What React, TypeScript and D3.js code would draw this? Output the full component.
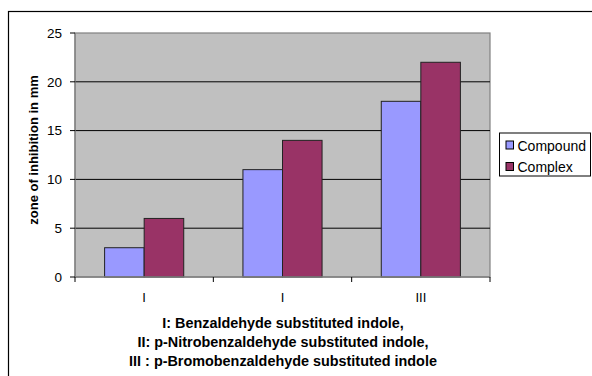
import React from "react";
import * as d3 from "d3";

const categories = ["I", "I", "III"];
const seriesNames = ["Compound", "Complex"];
const compoundValues = [3, 11, 18];
const complexValues = [6, 14, 22];
const yTicks = [0, 5, 10, 15, 20, 25];
const footnotes = [
  "I: Benzaldehyde substituted indole,",
  "II: p-Nitrobenzaldehyde substituted indole,",
  "III : p-Bromobenzaldehyde substituted indole",
];
const colors = ["#9999FF", "#993366"];

const W = 592;
const H = 376;
const plot = { left: 75, top: 33, right: 490, bottom: 277 };

export default function App() {
  const x = d3
    .scaleBand<number>()
    .domain(d3.range(categories.length))
    .range([plot.left, plot.right])
    .paddingInner(0)
    .paddingOuter(0);
  const y = d3.scaleLinear().domain([0, 25]).range([plot.bottom, plot.top]);
  const bw = x.bandwidth();
  const barW = bw * 0.286;
  const series = [compoundValues, complexValues];
  const font = "'Liberation Sans', Arial, sans-serif";

  return (
    <svg
      width={W}
      height={H}
      style={{ position: "absolute", left: 0, top: 0 }}
      fontFamily={font}
    >
      <rect x={0} y={0} width={W} height={H} fill="#fff" />
      {/* outer chart frame */}
      <rect x={8.5} y={11.5} width={W + 10} height={H + 10} fill="none" stroke="#000" strokeWidth={1.2} />
      {/* plot area */}
      <rect
        x={plot.left}
        y={plot.top}
        width={plot.right - plot.left}
        height={plot.bottom - plot.top}
        fill="#C0C0C0"
        stroke="#808080"
        strokeWidth={1.2}
      />
      {yTicks
        .filter((t) => t > 0 && t < 25)
        .map((t) => (
          <line key={t} x1={plot.left} x2={plot.right} y1={y(t)} y2={y(t)} stroke="#000" strokeWidth={1} />
        ))}
      {/* bars */}
      {categories.map((_, i) =>
        series.map((vals, s) => {
          const cx = x(i)! + bw / 2;
          const bx = cx - barW + s * barW;
          return (
            <rect
              key={`${i}-${s}`}
              x={bx}
              y={y(vals[i])}
              width={barW}
              height={plot.bottom - y(vals[i])}
              fill={colors[s]}
              stroke="#222"
              strokeWidth={1}
            />
          );
        })
      )}
      {/* axes */}
      <line x1={plot.left} x2={plot.left} y1={plot.top} y2={plot.bottom} stroke="#808080" strokeWidth={1.2} />
      <line x1={plot.left} x2={plot.right} y1={plot.bottom} y2={plot.bottom} stroke="#808080" strokeWidth={1.5} />
      {yTicks.map((t) => (
        <g key={t}>
          <line x1={plot.left - 5} x2={plot.left} y1={y(t)} y2={y(t)} stroke="#000" />
          <text x={62} y={y(t)} dy="0.35em" textAnchor="end" fontSize={13.5}>
            {t}
          </text>
        </g>
      ))}
      {d3.range(categories.length + 1).map((i) => {
        const xx = i < categories.length ? x(i)! : plot.right;
        return <line key={i} x1={xx} x2={xx} y1={plot.bottom} y2={plot.bottom + 5} stroke="#000" />;
      })}
      {categories.map((c, i) => (
        <text key={i} x={x(i)! + bw / 2} y={302} textAnchor="middle" fontSize={13}>
          {c}
        </text>
      ))}
      <text
        transform={`translate(33,150) rotate(-90)`}
        textAnchor="middle"
        dy="0.35em"
        fontSize={13}
        fontWeight="bold"
      >
        zone of inhibition in mm
      </text>
      {footnotes.map((f, i) => (
        <text key={i} x={283} y={327.5 + i * 19} textAnchor="middle" fontSize={14.4} fontWeight="bold">
          {f}
        </text>
      ))}
      {/* legend */}
      <rect x={499.5} y={133} width={91} height={43} fill="#fff" stroke="#000" strokeWidth={1} />
      {seriesNames.map((n, i) => (
        <g key={n} transform={`translate(506,${141 + i * 21.5})`}>
          <rect x={0} y={0} width={7.5} height={8} fill={colors[i]} stroke="#000" strokeWidth={1} />
          <text x={11.5} y={9.7} fontSize={14}>
            {n}
          </text>
        </g>
      ))}
    </svg>
  );
}
